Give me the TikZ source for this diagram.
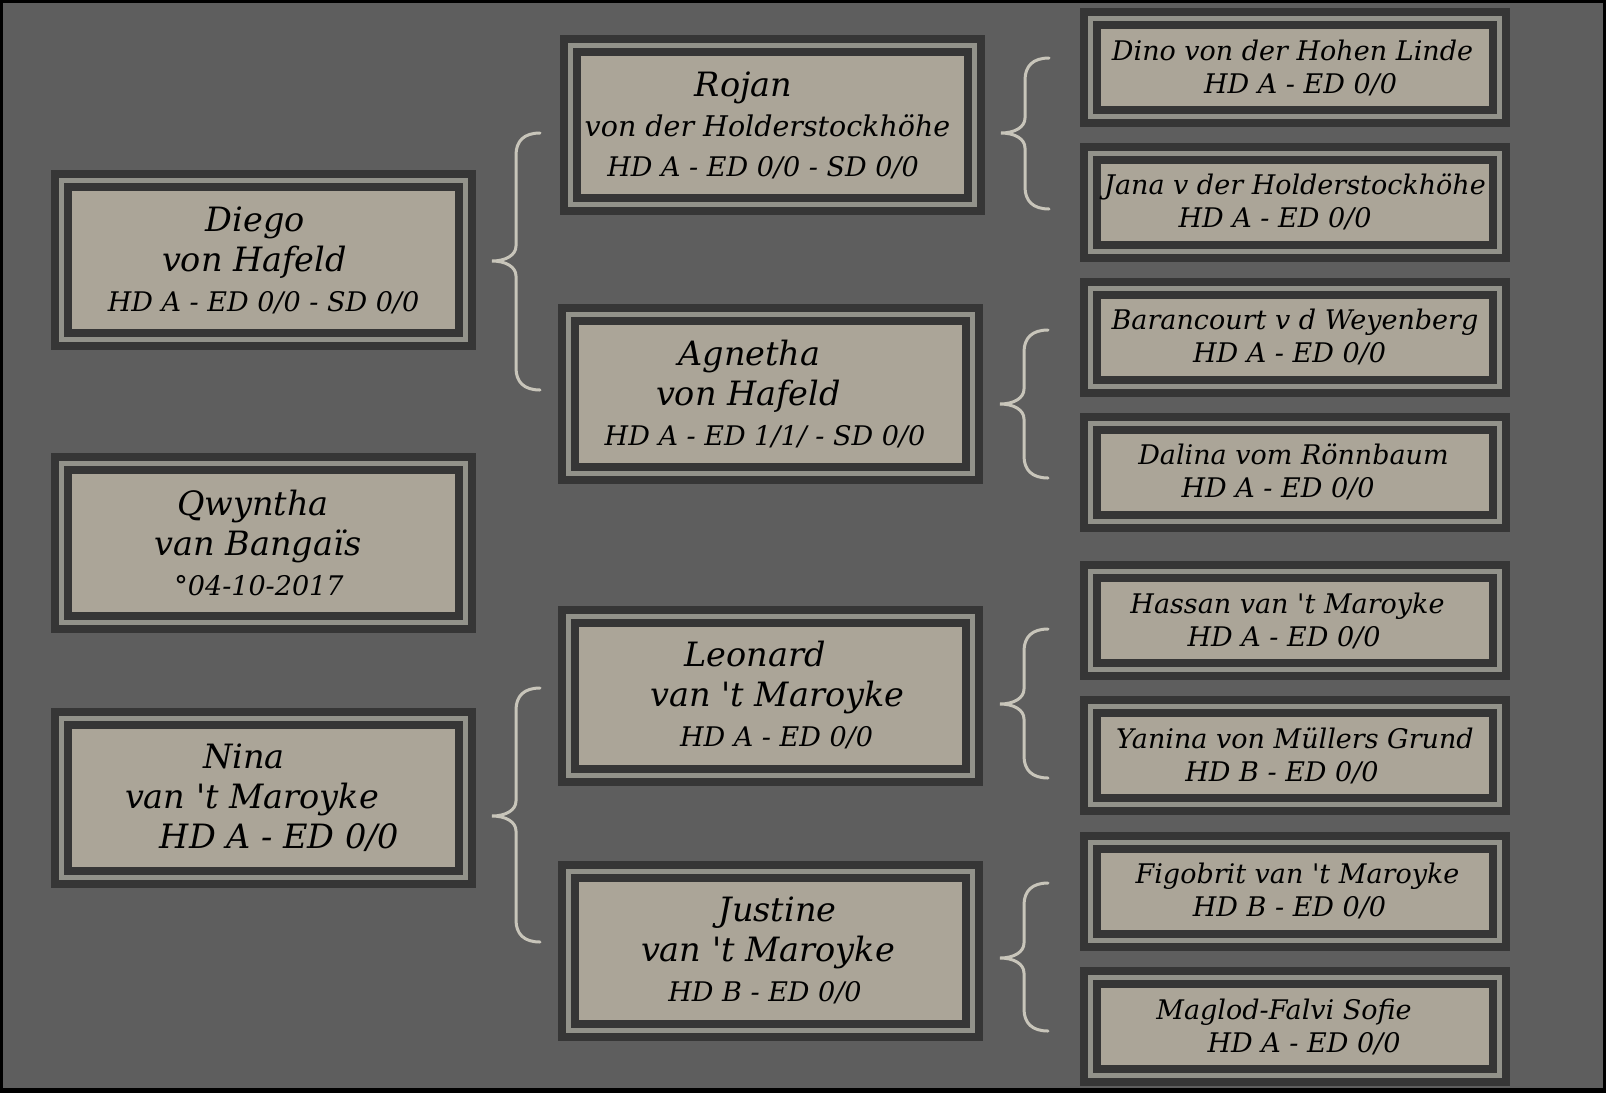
\documentclass[tikz,border=0pt]{standalone}
\usepackage{fontspec}
\setmainfont{DejaVu Serif}
\usepackage{tikz}
\usetikzlibrary{positioning}
\definecolor{bgGray}{RGB}{94,94,94}
\definecolor{boxFill}{RGB}{171,165,152}
\definecolor{frameDark}{RGB}{54,54,54}
\definecolor{frameLight}{RGB}{146,146,138}
\definecolor{braceCol}{RGB}{200,197,186}
\newcommand{\namesize}{\fontsize{33.5}{40}\selectfont}
\newcommand{\hdsize}{\fontsize{27}{33}\selectfont}
\newcommand{\midsize}{\fontsize{28.5}{38}\selectfont}
\newcommand{\ap}{\textquotesingle}
% brace: x of the ends, top y, tip y, bottom y
\newcommand{\famBrace}[4]{%
  \draw[famline] (#1,#2) .. controls +(-16,0) and +(0,-14) .. (#1-24,#2+22)
    -- (#1-24,#3-15) .. controls +(0,9) and +(14,0) .. (#1-48,#3)
    .. controls +(14,0) and +(0,-9) .. (#1-24,#3+15)
    -- (#1-24,#4-22) .. controls +(0,14) and +(-16,0) .. (#1,#4);}

\begin{document}
\begin{tikzpicture}[x=1pt, y=-1pt, font=\itshape,
    pedbox/.style={draw=frameDark, line width=8pt, double=frameLight,
      double distance=5pt, fill=boxFill, inner sep=0pt, align=center},
    bigbox/.style={pedbox, minimum width=404pt, minimum height=159pt, font=\itshape\namesize},
    smallbox/.style={pedbox, minimum width=409pt, minimum height=98pt, font=\itshape\hdsize},
    famline/.style={draw=braceCol, line width=3pt, line cap=round}]
    \useasboundingbox (0,0) rectangle (1606,1093);
    \fill[black] (0,0) rectangle (1606,1093);
    \fill[bgGray] (3,3) rectangle (1603,1088);

    % dog and its parents
    \node[bigbox] (diego) at (263.5,260)
        {\hspace*{-16pt}Diego\\ \hspace*{-18pt}von Hafeld\\ {\hdsize HD A - ED 0/0 - SD 0/0}};
    \node[bigbox] (qwyntha) at (263.5,543)
        {\hspace*{-21pt}Qwyntha\\ \hspace*{-11pt}van Bangaïs\\ \hspace*{-9pt}{\hdsize °04-10-2017}};
    \node[bigbox] (nina) at (263.5,798)
        {\hspace*{-39pt}Nina\\ \hspace*{-23pt}van \ap t Maroyke\\ \hspace*{32pt}HD A - ED 0/0};

    % grandparents
    \node[bigbox] (rojan) at (772,125)
        {\hspace*{-57pt}Rojan\\ \hspace*{-9pt}{\midsize von der Holderstockhöhe}\\ \hspace*{-18pt}{\hdsize HD A - ED 0/0 - SD 0/0}};
    \node[bigbox] (agnetha) at (770,394)
        {\hspace*{-41pt}Agnetha\\ \hspace*{-43pt}von Hafeld\\ \hspace*{-10pt}{\hdsize HD A - ED 1/1/ - SD 0/0}};
    \node[bigbox] (leonard) at (770,695.5)
        {\hspace*{-30pt}Leonard\\ \hspace*{15pt}van \ap t Maroyke\\ \hspace*{13pt}{\hdsize HD A - ED 0/0}};
    \node[bigbox] (justine) at (770,950.5)
        {\hspace*{15pt}Justine\\ \hspace*{-4pt}van \ap t Maroyke\\ \hspace*{-10pt}{\hdsize HD B - ED 0/0}};

    % great-grandparents
    \node[smallbox] (dino) at (1295,67.5)
        {\hspace*{-5pt}Dino von der Hohen Linde\\ \hspace*{11pt}HD A - ED 0/0};
    \node[smallbox] (jana) at (1295,202)
        {Jana v der Holderstockhöhe\\ \hspace*{-40pt}HD A - ED 0/0};
    \node[smallbox] (barancourt) at (1295,337)
        {Barancourt v d Weyenberg\\ \hspace*{-11pt}HD A - ED 0/0};
    \node[smallbox] (dalina) at (1295,472)
        {\hspace*{-3pt}Dalina vom Rönnbaum\\ \hspace*{-34pt}HD A - ED 0/0};
    \node[smallbox] (hassan) at (1295,620.5)
        {\hspace*{-15pt}Hassan van \ap t Maroyke\\ \hspace*{-22pt}HD A - ED 0/0};
    \node[smallbox] (yanina) at (1295,755.5)
        {Yanina von Müllers Grund\\ \hspace*{-26pt}HD B - ED 0/0};
    \node[smallbox] (figobrit) at (1295,891)
        {\hspace*{5pt}Figobrit van \ap t Maroyke\\ \hspace*{-11pt}HD B - ED 0/0};
    \node[smallbox] (maglod) at (1295,1026.5)
        {\hspace*{-22pt}Maglod-Falvi Sofie\\ \hspace*{18pt}HD A - ED 0/0};

    % braces
    \famBrace{540}{133}{261}{390}
    \famBrace{540}{688}{816}{942}
    \famBrace{1049}{58}{133}{209}
    \famBrace{1048}{330}{404}{478}
    \famBrace{1048}{629}{704}{778}
    \famBrace{1048}{883}{958}{1031}
\end{tikzpicture}
\end{document}
